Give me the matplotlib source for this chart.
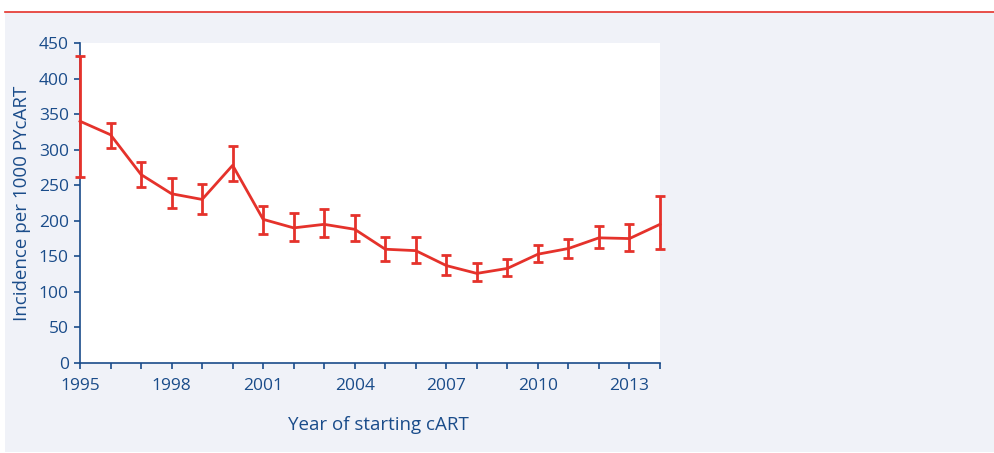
import matplotlib.pyplot as plt
from matplotlib.patches import Rectangle
from matplotlib.lines import Line2D

years = list(range(1995, 2015))
incidence = [340, 321, 265, 238, 230, 278, 202, 190, 195, 188,
             160, 158, 137, 126, 133, 153, 161, 176, 175, 195]
lower = [262, 302, 247, 218, 210, 256, 182, 172, 177, 171,
         143, 141, 124, 116, 122, 142, 148, 162, 157, 161]
upper = [432, 338, 283, 260, 252, 305, 221, 211, 216, 208,
         177, 177, 152, 140, 146, 166, 174, 192, 195, 235]
xtick_years = [1995, 1998, 2001, 2004, 2007, 2010, 2013]

blue = "#1a4c8a"
red = "#e5322b"

plt.rcParams['font.family'] = ['Open Sans', 'DejaVu Sans']

fig = plt.figure(figsize=(9.94, 4.53), dpi=100)
fig.patch.set_facecolor("white")
fig.patches.append(Rectangle((5 / 994, 1 / 453), 1, 440 / 453, transform=fig.transFigure,
                             facecolor="#f0f2f8", edgecolor="none", zorder=-10))
fig.lines.append(Line2D([5 / 994, 1], [1 - 11.5 / 453, 1 - 11.5 / 453], transform=fig.transFigure,
                        color=red, lw=1.2, zorder=-5))

ax = fig.add_axes([80 / 994, 1 - 363 / 453, 580 / 994, 320 / 453])
ax.set_facecolor("white")

yerr = [[v - lo for v, lo in zip(incidence, lower)],
        [hi - v for v, hi in zip(incidence, upper)]]
line, caps, bars = ax.errorbar(years, incidence, yerr=yerr, color=red, lw=2,
                               elinewidth=2, capsize=3.5, capthick=2, clip_on=False, zorder=4)
for c in caps:
    c.set_clip_on(False)
for b in bars:
    b.set_clip_on(False)

ax.set_xlim(1995, 2014)
ax.set_ylim(0, 450)
ax.set_xticks(years, minor=True)
ax.set_xticks(xtick_years)
ax.set_yticks(range(0, 451, 50))

for s in ["top", "right"]:
    ax.spines[s].set_visible(False)
for s in ["left", "bottom"]:
    ax.spines[s].set_color(blue)
    ax.spines[s].set_linewidth(1.2)

ax.tick_params(axis="both", which="both", colors=blue, labelcolor=blue, labelsize=12.5,
               direction="out", length=4, width=1.2)
ax.tick_params(axis="x", which="major", pad=7)
ax.tick_params(axis="y", pad=4)

ax.set_xlabel("Year of starting cART", color=blue, fontsize=13.5, labelpad=12)
ax.xaxis.set_label_coords(0.515, -0.165)
ax.set_ylabel("Incidence per 1000 PYcART", color=blue, fontsize=13.5, labelpad=6)

fig.savefig("out.png", dpi=100, facecolor=fig.get_facecolor())
